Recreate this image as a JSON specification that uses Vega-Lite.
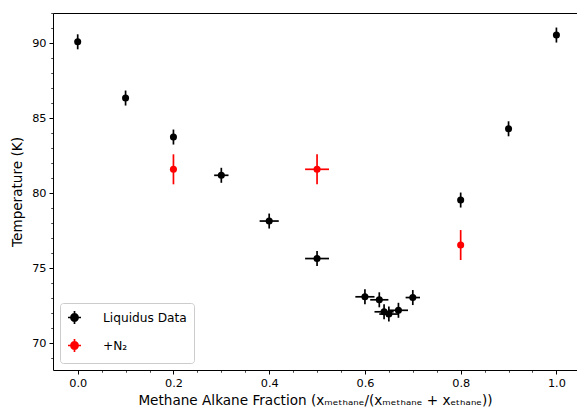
{
  "$schema": "https://vega.github.io/schema/vega-lite/v6.json",
  "width": 524,
  "height": 357,
  "autosize": {"type": "none"},
  "padding": {"left": 53, "top": 13, "right": 0, "bottom": 42},
  "background": "white",
  "config": {
    "view": {"stroke": null},
    "font": "DejaVu Sans",
    "axis": {
      "grid": false,
      "domainColor": "#000000",
      "domainWidth": 1,
      "tickColor": "#000000",
      "tickWidth": 1,
      "labelColor": "#000000",
      "titleColor": "#000000",
      "labelFont": "DejaVu Sans",
      "titleFont": "DejaVu Sans",
      "labelFontSize": 11.3,
      "titleFontSize": 13.6,
      "titleFontWeight": "normal"
    },
    "legend": {
      "labelFont": "DejaVu Sans"
    }
  },
  "data": {
    "values": [
      {"series": "Liquidus Data", "x": 0.0, "xlo": 0.0, "xhi": 0.0, "T": 90.1, "Tlo": 89.6, "Thi": 90.6},
      {"series": "Liquidus Data", "x": 0.1, "xlo": 0.096, "xhi": 0.104, "T": 86.35, "Tlo": 85.85, "Thi": 86.85},
      {"series": "Liquidus Data", "x": 0.2, "xlo": 0.195, "xhi": 0.205, "T": 83.75, "Tlo": 83.25, "Thi": 84.25},
      {"series": "Liquidus Data", "x": 0.3, "xlo": 0.285, "xhi": 0.315, "T": 81.2, "Tlo": 80.7, "Thi": 81.7},
      {"series": "Liquidus Data", "x": 0.4, "xlo": 0.38, "xhi": 0.42, "T": 78.15, "Tlo": 77.65, "Thi": 78.65},
      {"series": "Liquidus Data", "x": 0.5, "xlo": 0.475, "xhi": 0.525, "T": 75.65, "Tlo": 75.15, "Thi": 76.15},
      {"series": "Liquidus Data", "x": 0.6, "xlo": 0.58, "xhi": 0.62, "T": 73.1, "Tlo": 72.6, "Thi": 73.6},
      {"series": "Liquidus Data", "x": 0.63, "xlo": 0.611, "xhi": 0.649, "T": 72.9, "Tlo": 72.4, "Thi": 73.4},
      {"series": "Liquidus Data", "x": 0.64, "xlo": 0.62, "xhi": 0.66, "T": 72.1, "Tlo": 71.6, "Thi": 72.6},
      {"series": "Liquidus Data", "x": 0.65, "xlo": 0.63, "xhi": 0.67, "T": 71.95, "Tlo": 71.45, "Thi": 72.45},
      {"series": "Liquidus Data", "x": 0.67, "xlo": 0.65, "xhi": 0.69, "T": 72.2, "Tlo": 71.7, "Thi": 72.7},
      {"series": "Liquidus Data", "x": 0.7, "xlo": 0.685, "xhi": 0.715, "T": 73.05, "Tlo": 72.55, "Thi": 73.55},
      {"series": "Liquidus Data", "x": 0.8, "xlo": 0.796, "xhi": 0.804, "T": 79.55, "Tlo": 79.05, "Thi": 80.05},
      {"series": "Liquidus Data", "x": 0.9, "xlo": 0.897, "xhi": 0.903, "T": 84.3, "Tlo": 83.8, "Thi": 84.8},
      {"series": "Liquidus Data", "x": 1.0, "xlo": 1.0, "xhi": 1.0, "T": 90.55, "Tlo": 90.05, "Thi": 91.05},
      {"series": "+N₂", "x": 0.2, "xlo": 0.2, "xhi": 0.2, "T": 81.6, "Tlo": 80.6, "Thi": 82.6},
      {"series": "+N₂", "x": 0.5, "xlo": 0.475, "xhi": 0.525, "T": 81.6, "Tlo": 80.6, "Thi": 82.6},
      {"series": "+N₂", "x": 0.8, "xlo": 0.8, "xhi": 0.8, "T": 76.55, "Tlo": 75.55, "Thi": 77.55}
    ]
  },
  "resolve": {"axis": {"x": "independent", "y": "independent"}},
  "layer": [
    {
      "mark": {"type": "rule", "strokeWidth": 1.7},
      "encoding": {
        "x": {
          "field": "x", "type": "quantitative",
          "scale": {"domain": [-0.0516, 1.043], "nice": false, "zero": false},
          "axis": {"orient": "bottom", "values": [0.05, 0.1, 0.15, 0.25, 0.3, 0.35, 0.45, 0.5, 0.55, 0.65, 0.7, 0.75, 0.85, 0.9, 0.95], "labels": false, "tickSize": 2.3, "tickWidth": 0.7, "domain": false, "title": null}
        },
        "y": {
          "field": "Tlo", "type": "quantitative",
          "scale": {"domain": [68.22, 92.02], "nice": false, "zero": false},
          "axis": {"orient": "left", "values": [69, 71, 72, 73, 74, 76, 77, 78, 79, 81, 82, 83, 84, 86, 87, 88, 89, 91, 92], "labels": false, "tickSize": 2.3, "tickWidth": 0.7, "domain": false, "title": null}
        },
        "y2": {"field": "Thi"},
        "color": {"field": "series", "type": "nominal", "scale": {"domain": ["Liquidus Data", "+N₂"], "range": ["#000000", "#ff0000"]}}
      }
    },
    {
      "mark": {"type": "rule", "strokeWidth": 1.7},
      "encoding": {
        "x": {
          "field": "xlo", "type": "quantitative",
          "axis": {"orient": "top", "labels": false, "ticks": false, "domain": true, "title": null}
        },
        "x2": {"field": "xhi"},
        "y": {"field": "T", "type": "quantitative", "axis": null},
        "color": {"field": "series", "type": "nominal"}
      }
    },
    {
      "mark": {"type": "point", "filled": true, "opacity": 1, "size": 50},
      "encoding": {
        "x": {
          "field": "x", "type": "quantitative",
          "axis": {"orient": "bottom", "values": [0, 0.2, 0.4, 0.6, 0.8, 1.0], "format": ".1f", "tickSize": 4, "labelPadding": 3, "title": "Methane Alkane Fraction (xₘₑₜₕₐₙₑ/(xₘₑₜₕₐₙₑ + xₑₜₕₐₙₑ))", "titlePadding": 5}
        },
        "y": {
          "field": "T", "type": "quantitative",
          "axis": {"orient": "left", "values": [70, 75, 80, 85, 90], "tickSize": 4, "labelPadding": 3, "title": "Temperature (K)", "titlePadding": 7}
        },
        "color": {
          "field": "series", "type": "nominal",
          "legend": {
            "title": null,
            "orient": "bottom-left",
            "offset": 7,
            "padding": 7,
            "rowPadding": 7,
            "labelOffset": 21,
            "labelFontSize": 12.2,
            "labelColor": "#000000",
            "symbolType": "M-1,0L1,0M0,-1L0,1M0.55,0A0.55,0.55,0,1,1,-0.55,0A0.55,0.55,0,1,1,0.55,0Z",
            "symbolSize": 169,
            "symbolStrokeWidth": 1.7,
            "fillColor": "rgba(255,255,255,0.8)",
            "strokeColor": "#cccccc",
            "cornerRadius": 3,
            "encode": {
              "symbols": {"update": {"stroke": {"scale": "color", "field": "value"}, "fill": {"scale": "color", "field": "value"}, "opacity": {"value": 1}}}
            }
          }
        }
      }
    }
  ]
}
